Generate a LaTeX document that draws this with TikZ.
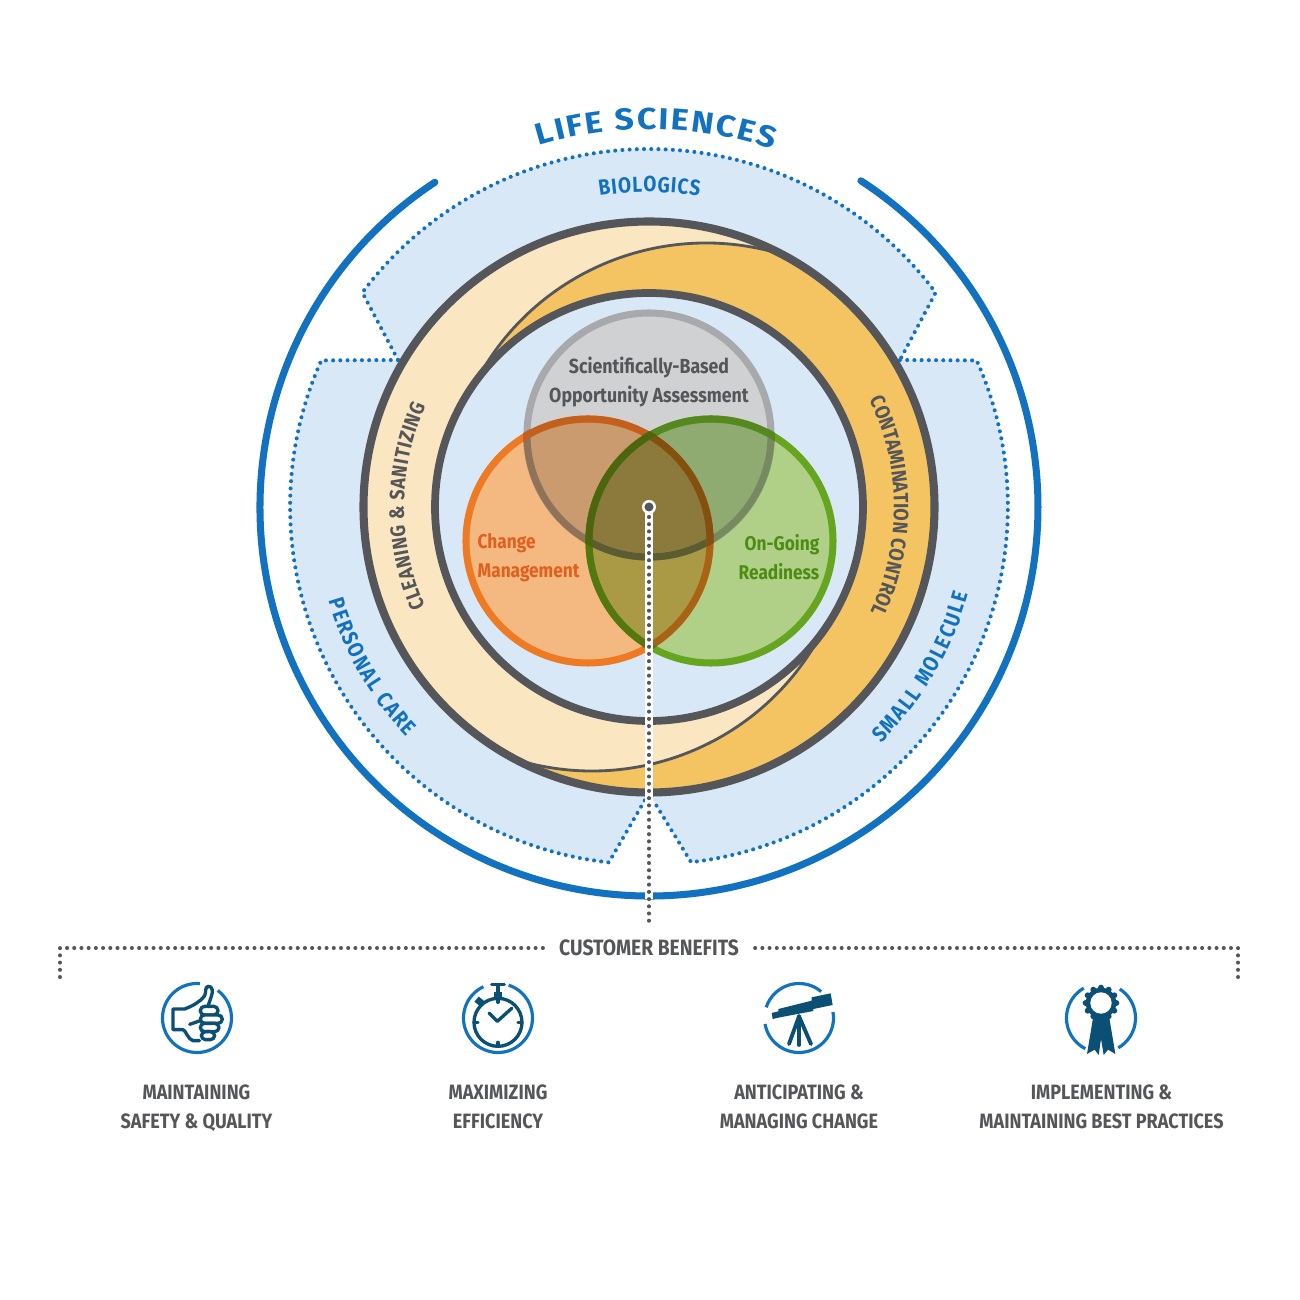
\documentclass[tikz,border=0pt]{standalone}
\usepackage{fontspec}
\setmainfont{Fira Sans}[FakeStretch=0.87]
\newfontfamily\widefont{Fira Sans}[FakeStretch=1.12]
\usepackage{tikz}
\usetikzlibrary{
    calc,
    decorations.text
}
\definecolor{bandblue}{HTML}{D9E8F6}
\definecolor{lineblue}{HTML}{1272C0}
\definecolor{navy}{HTML}{0B4F75}
\definecolor{slate}{HTML}{55565A}
\definecolor{cream}{HTML}{FAE6C0}
\definecolor{amber}{HTML}{F4C462}
\tikzset{
    x=0.01cm,y=0.01cm,
    dotline/.style={line width=1.15pt,line cap=round,dash pattern=on 0pt off 2.05pt},
    iconring/.style={draw=lineblue,line width=0.9pt},
    iconline/.style={draw=navy,line width=0.95pt,line cap=round,line join=round},
    caption/.style={font=\fontsize{5.9}{8.2}\selectfont\bfseries,text=slate,align=center},
    venntext/.style={font=\fontsize{5.8}{8.2}\selectfont\bfseries},
    arctext/.style={decorate,decoration={text along path,text align=fit to path,text={#1}}}
}
\def\bluefmt{|\fontsize{6.2}{8}\selectfont\bfseries\color{lineblue}|}
\def\slatefmt{|\fontsize{5.9}{8}\selectfont\bfseries\color{slate}|}
\def\graydisc{(0,72) circle (126)}
\def\orangedisc{(-61,-34) circle (126)}
\def\greendisc{(62,-34) circle (126)}
\newcommand{\iconframe}[1]{\begin{scope}[xscale=0.3333,yscale=-0.3333,shift={(-127,-127)}]#1\end{scope}}

\begin{document}
\begin{tikzpicture}
    \useasboundingbox (-649,-793) rectangle (651,507);

    % market bands
    \fill[bandblue] (0,0) -- (-251,147) -- (143.2:358) arc (143.2:36.8:358) -- (251,147) -- cycle;
    \fill[bandblue] (0,0) -- (-251,147) -- (155.9:359) arc (155.9:263.7:358) -- (-4,-293) -- cycle;
    \fill[bandblue] (0,0) -- (251,147) -- (24.1:359) arc (24.1:-83.4:358) -- (4,-293) -- cycle;
    \draw[dotline,lineblue] (-251,147) -- (143.2:358) arc (143.2:36.8:358) -- (251,147);
    \draw[dotline,lineblue] (-251,147) -- (155.9:359) arc (155.9:263.7:358) -- (-4,-293);
    \draw[dotline,lineblue] (251,147) -- (24.1:359) arc (24.1:-83.4:358) -- (4,-293);
    \draw[lineblue,line width=2pt,line cap=round] (123.4:389) arc (123.4:417:389);

    % focus areas
    \coordinate (cA) at (57,4);
    \coordinate (cB) at (-57,-4);
    \fill[cream] (0,0) circle (286);
    \fill[amber] ($(cA)+(149:260)$) arc (149:73:260) -- (62.3:286) arc (62.3:-117.7:286)
        -- ($(cB)+(253:260)$) arc (253:329:260) -- (-48.5:214) arc (-48.5:131.5:214) -- cycle;
    \draw[slate,line width=0.8pt] ($(cA)+(149:260)$) arc (149:73:260);
    \draw[slate,line width=0.8pt] ($(cB)+(253:260)$) arc (253:329:260);
    \draw[slate,line width=2.3pt] (0,0) circle (285.5);
    \draw[slate,line width=2.2pt,fill=bandblue] (0,0) circle (214);

    % venn fills
    \fill[fill={rgb,255:red,208;green,209;blue,211}] (0,72) circle (122);
    \fill[fill={rgb,255:red,244;green,185;blue,129}] (-61,-34) circle (122);
    \fill[fill={rgb,255:red,176;green,208;blue,136}] (62,-34) circle (122);
    \begin{scope}\clip \graydisc;\fill[fill={rgb,255:red,201;green,155;blue,110}] (-61,-34) circle (122);\fill[fill={rgb,255:red,143;green,171;blue,114}] (62,-34) circle (122);\end{scope}
    \begin{scope}\clip (-61,-34) circle (122);\fill[fill={rgb,255:red,170;green,154;blue,69}] (62,-34) circle (122);\end{scope}
    \begin{scope}\clip (0,72) circle (122);\clip (-61,-34) circle (122);\fill[fill={rgb,255:red,139;green,122;blue,59}] (62,-34) circle (122);\end{scope}

    % venn rings
    \draw[line width=2pt,color={rgb,255:red,168;green,169;blue,172}] (0,72) circle (122);
    \draw[line width=2pt,color={rgb,255:red,238;green,122;blue,35}] (-61,-34) circle (122);
    \draw[line width=2pt,color={rgb,255:red,102;green,165;blue,32}] (62,-34) circle (122);
    \begin{scope}\clip \orangedisc;\draw[line width=2pt,color={rgb,255:red,143;green,114;blue,87}] (0,72) circle (122);\end{scope}
    \begin{scope}\clip \greendisc;\draw[line width=2pt,color={rgb,255:red,118;green,137;blue,95}] (0,72) circle (122);\end{scope}
    \begin{scope}\clip \orangedisc;\clip \greendisc;\draw[line width=2pt,color={rgb,255:red,93;green,91;blue,48}] (0,72) circle (122);\end{scope}
    \begin{scope}\clip \graydisc;\draw[line width=2pt,color={rgb,255:red,196;green,96;blue,30}] (-61,-34) circle (122);\end{scope}
    \begin{scope}\clip \greendisc;\draw[line width=2pt,color={rgb,255:red,168;green,100;blue,22}] (-61,-34) circle (122);\end{scope}
    \begin{scope}\clip \graydisc;\clip \greendisc;\draw[line width=2pt,color={rgb,255:red,130;green,80;blue,15}] (-61,-34) circle (122);\end{scope}
    \begin{scope}\clip \graydisc;\draw[line width=2pt,color={rgb,255:red,85;green,136;blue,30}] (62,-34) circle (122);\end{scope}
    \begin{scope}\clip \orangedisc;\draw[line width=2pt,color={rgb,255:red,85;green,119;blue,15}] (62,-34) circle (122);\end{scope}
    \begin{scope}\clip \graydisc;\clip \orangedisc;\draw[line width=2pt,color={rgb,255:red,77;green,102;blue,14}] (62,-34) circle (122);\end{scope}

    \node[venntext,text=slate,align=center] (assess) at (0,125) {Scientifically-Based\\[0.1pt]Opportunity Assessment};
    \node[venntext,inner sep=0pt,font=\fontsize{5.65}{8.2}\selectfont\bfseries,text={rgb,255:red,226;green,96;blue,31},align=left,anchor=west] (change) at (-172,-51) {Change\\[0.1pt]Management};
    \node[venntext,inner sep=0pt,font=\fontsize{5.65}{8.2}\selectfont\bfseries,text={rgb,255:red,76;green,140;blue,21},align=right,anchor=east] (ready) at (171,-50) {On-Going\\[0.1pt]Readiness};

    % curved labels
    \path[arctext={|\fontsize{8.6}{10}\selectfont\widefont\bfseries\color{lineblue}|LIFE SCIENCES}] (107:378) arc (107:70.9:378);
    \path[arctext={\bluefmt BIOLOGICS}] (99:315) arc (99:80.8:315);
    \path[arctext={\bluefmt PERSONAL CARE}] (196.3:334) arc (196.3:223.5:334);
    \path[arctext={\bluefmt SMALL MOLECULE}] (-45.5:331) arc (-45.5:-15.3:331);
    \path[arctext={\slatefmt CLEANING {\&} SANITIZING}] (204:245) arc (204:155.6:245);
    \path[arctext={\slatefmt CONTAMINATION CONTROL}] (26:245) arc (26:-25.4:245);

    % benefits stem
    \node[circle,fill=white,inner sep=0pt,minimum size=0.14cm] (hub) at (0,0) {};
    \coordinate (stemfoot) at (0,-418);
    \draw[white,line width=2.2pt] (hub.center) -- (0,-392);
    \draw[slate,dotline] (0,-10) -- (stemfoot);
    \fill[slate] (hub.center) circle (4.5);

    \node[caption,font=\fontsize{6.3}{8}\selectfont\bfseries] (benefits) at (0,-441) {CUSTOMER BENEFITS};
    \coordinate (leftdrop) at (-589,-470);
    \coordinate (rightdrop) at (589,-470);
    \draw[slate,dotline] (leftdrop) |- (-106,-441);
    \draw[slate,dotline] (rightdrop) |- (106,-441);

    % thumb
    \begin{scope}[shift={(-452,-511)}]
        \draw[iconring] (85:34.5) arc (85:413:34.5);
        \iconframe{
            \draw[iconline] (135,195) -- (115,195) .. controls (100,192) and (92,162) .. (85,162) -- (55,162) -- (55,100) -- (90,100)
                .. controls (115,90) and (135,80) .. (150,60) .. controls (155,50) and (150,35) .. (160,32)
                .. controls (175,30) and (175,50) .. (170,62) .. controls (166,75) and (162,85) .. (160,92);
            \draw[iconline,rounded corners=1.2pt,fill=white] (137,92) rectangle (190,118);
            \draw[iconline,rounded corners=1.2pt,fill=white] (137,118) rectangle (203,143);
            \draw[iconline,rounded corners=1.2pt,fill=white] (137,143) rectangle (193,168);
            \draw[iconline,rounded corners=1.2pt,fill=white] (140,168) rectangle (180,192);
            \draw[iconline] (105,146) -- (137,135);
        }
    \end{scope}
    % stopwatch
    \begin{scope}[shift={(-151,-511)}]
        \draw[iconring] (72:34.5) arc (72:-245:34.5);
        \iconframe{
            \draw[iconline] (127,140) circle (72);
            \draw[iconline] (108,27) -- (146,27);
            \draw[navy,line width=1.3pt] (127,27) -- (127,68);
            \fill[navy] (115,50) rectangle (139,72);
            \fill[navy,rotate around={40:(72,78)}] (60,68) rectangle (84,88);
            \draw[iconline] (100,112) -- (125,137) -- (168,98);
            \draw[iconline] (127,68) -- (127,80) (127,200) -- (127,212) (55,140) -- (67,140) (187,140) -- (199,140);
        }
    \end{scope}
    % telescope
    \begin{scope}[shift={(150,-511)}]
        \draw[iconring] (162:34.5) arc (162:50:34.5);
        \draw[iconring] (190:34.5) arc (190:370:34.5);
        \iconframe{
            \fill[navy] (45,112) -- (65,107) -- (65,100) -- (165,75) -- (165,65) -- (222,53) -- (228,88) -- (170,100) -- (170,106) -- (70,125) -- (48,130) -- cycle;
            \draw[iconline,line width=1.1pt] (127,122) -- (97,205);
            \draw[iconline,line width=1.1pt] (127,122) -- (127,208);
            \draw[iconline,line width=1.1pt] (127,122) -- (163,205);
        }
    \end{scope}
    % rosette
    \begin{scope}[shift={(452,-511)}]
        \draw[iconring] (120:34.5) arc (120:243:34.5);
        \draw[iconring] (57:34.5) arc (57:-60:34.5);
        \iconframe{
            \fill[navy] (105,115) -- (85,235) -- (108,222) -- (120,238) -- (127,190) -- (135,238) -- (148,222) -- (170,235) -- (150,115) -- cycle;
            \fill[navy] (127,82) circle (46);
            \foreach \a in {0,30,...,330}{
                \fill[navy] ($(127,82)+(\a:46)$) circle (9);
            }
            \fill[white] (127,82) circle (32);
        }
    \end{scope}

    \node[caption] (safety) at (-452.5,-601) {MAINTAINING\\SAFETY \& QUALITY};
    \node[caption] (speed) at (-151,-600) {MAXIMIZING\\EFFICIENCY};
    \node[caption] (foresee) at (150,-600) {ANTICIPATING \&\\MANAGING CHANGE};
    \node[caption] (practice) at (452.5,-600) {IMPLEMENTING \&\\MAINTAINING BEST PRACTICES};
\end{tikzpicture}
\end{document}
